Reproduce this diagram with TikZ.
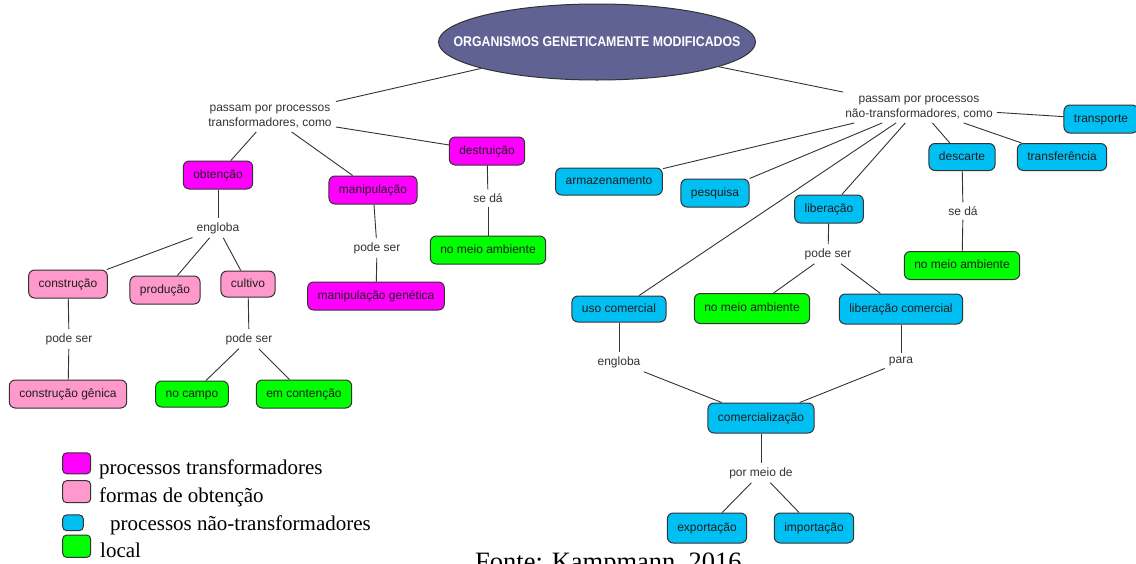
\documentclass[tikz,border=0pt]{standalone}
\usepackage{fontspec}
\setmainfont{Liberation Serif}
\setsansfont{Liberation Sans}
\usetikzlibrary{shapes.geometric}
\definecolor{ogm}{HTML}{5F6293}
\definecolor{cmag}{HTML}{FF00FF}
\definecolor{cpink}{HTML}{FF99CC}
\definecolor{cblue}{HTML}{00BFF3}
\definecolor{cgreen}{HTML}{00FF00}
\definecolor{edge}{HTML}{333333}
\definecolor{txt}{HTML}{1E1E1E}
\tikzset{
  box/.style={draw=edge, line width=1pt, rounded corners=6pt, inner xsep=10pt, inner ysep=0pt,
    minimum height=28pt, text height=9pt, text depth=2.5pt, text=txt,
    font=\sffamily\fontsize{12}{14}\selectfont},
  trans/.style={box, fill=cmag},
  forma/.style={box, fill=cpink},
  nontr/.style={box, fill=cblue},
  loc/.style={box, fill=cgreen},
  lbl/.style={inner sep=4pt, align=center, text=edge, font=\sffamily\fontsize{12}{14.5}\selectfont},
  conn/.style={draw=edge, line width=0.9pt},
  legsq/.style={draw=edge, line width=1pt, rounded corners=4pt, inner sep=0pt},
  legtxt/.style={anchor=base west, inner sep=0pt, font=\fontsize{21}{24}\selectfont}
}
\begin{document}
\begin{tikzpicture}[x=1pt,y=-1pt]
\useasboundingbox (0,0) rectangle (1136,563);
\fill[white] (0,0) rectangle (1136,563);

% title
\node[ellipse, draw=edge, line width=1pt, fill=ogm, minimum width=317pt, minimum height=76pt, inner sep=0pt,
  text=white] (title) at (597,42) {\makebox[0pt]{\scalebox{0.88}[1]{\sffamily\bfseries\fontsize{14}{16}\selectfont ORGANISMOS GENETICAMENTE MODIFICADOS}}};

% left branch
\node[lbl] (L1) at (270,116.5) {passam por processos\\transformadores, como};
\node[trans] (obt) at (218,175) {obtenção};
\node[trans] (manip) at (373,190) {manipulação};
\node[trans] (destr) at (487,151) {destruição};
\node[lbl] (engl1) at (218,228) {engloba};
\node[lbl] (seda1) at (488,198) {se dá};
\node[loc] (nma1) at (488,250) {no meio ambiente};
\node[lbl] (poder1) at (377,248) {pode ser};
\node[trans] (mgen) at (376,296) {manipulação genética};
\node[forma] (constr) at (68,284) {construção};
\node[forma] (prod) at (165,290) {produção};
\node[forma, minimum height=26pt] (cult) at (248,284) {cultivo};
\node[lbl] (podec) at (69,339) {pode ser};
\node[lbl] (podecu) at (249,339) {pode ser};
\node[forma] (cgen) at (68,394) {construção gênica};
\node[loc, minimum height=26pt] (campo) at (192,394) {no campo};
\node[loc] (contencao) at (304,394) {em contenção};

% right branch
\node[lbl] (R1) at (919,107.5) {passam por processos\\não-transformadores, como};
\node[nontr] (transp) at (1101,119) {transporte};
\node[nontr, minimum height=27pt] (transf) at (1062,157) {transferência};
\node[nontr, minimum height=27pt] (desc) at (962,157) {descarte};
\node[nontr, minimum height=27pt] (armaz) at (609,181.5) {armazenamento};
\node[nontr] (pesq) at (715,193) {pesquisa};
\node[nontr] (liber) at (829,209) {liberação};
\node[lbl] (seda2) at (963,211) {se dá};
\node[loc] (nma2) at (962,265.5) {no meio ambiente};
\node[lbl] (poder2) at (828,254) {pode ser};
\node[nontr, minimum height=26pt] (uso) at (619,309) {uso comercial};
\node[loc, minimum height=30pt] (nma3) at (752,308.5) {no meio ambiente};
\node[nontr, minimum height=30pt] (libcom) at (901,309) {liberação comercial};
\node[lbl] (engl2) at (619,362) {engloba};
\node[lbl] (para) at (901,362) {para};
\node[nontr, minimum height=30pt] (comerc) at (761,418) {comercialização};
\node[lbl] (pormeio) at (761,473) {por meio de};
\node[nontr, minimum height=30pt] (export) at (707,528) {exportação};
\node[nontr, minimum height=30pt] (import) at (814,528) {importação};

% connectors
\draw[conn] (title) -- (L1);
\draw[conn] (title) -- (R1);
\draw[conn] (L1) -- (obt);
\draw[conn] (L1) -- (manip);
\draw[conn] (L1) -- (destr);
\draw[conn] (obt) -- (engl1);
\draw[conn] (engl1) -- (constr);
\draw[conn] (engl1) -- (prod);
\draw[conn] (engl1) -- (cult);
\draw[conn] (constr) -- (podec);
\draw[conn] (podec) -- (cgen);
\draw[conn] (cult) -- (podecu);
\draw[conn] (podecu) -- (campo);
\draw[conn] (podecu) -- (contencao);
\draw[conn] (manip) -- (poder1);
\draw[conn] (poder1) -- (mgen);
\draw[conn] (destr) -- (seda1);
\draw[conn] (seda1) -- (nma1);
\draw[conn] (R1) -- (transp);
\draw[conn] (R1) -- (transf);
\draw[conn] (R1) -- (desc);
\draw[conn] (R1) -- (liber);
\draw[conn] (R1) -- (armaz);
\draw[conn] (R1) -- (pesq);
\draw[conn] (R1) -- (uso);
\draw[conn] (desc) -- (seda2);
\draw[conn] (seda2) -- (nma2);
\draw[conn] (liber) -- (poder2);
\draw[conn] (poder2) -- (nma3);
\draw[conn] (poder2) -- (libcom);
\draw[conn] (uso) -- (engl2);
\draw[conn] (engl2) -- (comerc);
\draw[conn] (libcom) -- (para);
\draw[conn] (para) -- (comerc);
\draw[conn] (comerc) -- (pormeio);
\draw[conn] (pormeio) -- (export);
\draw[conn] (pormeio) -- (import);

% legend
\node[legsq, fill=cmag, minimum width=28pt, minimum height=21pt] (lg1) at (76.7,463.3) {};
\node[legsq, fill=cpink, minimum width=28pt, minimum height=22pt] (lg2) at (76.7,491.7) {};
\node[legsq, fill=cblue, minimum width=20.6pt, minimum height=15.7pt] (lg3) at (73,522.8) {};
\node[legsq, fill=cgreen, minimum width=28pt, minimum height=22.3pt] (lg4) at (76.7,546.2) {};
\node[legtxt] (lt1) at (99,474) {processos transformadores};
\node[legtxt] (lt2) at (99,502.7) {formas de obtenção};
\node[legtxt] (lt3) at (110,530.7) {processos não-transformadores};
\node[legtxt] (lt4) at (100,557.3) {local};

% source
\node[anchor=base west, inner sep=0pt, font=\fontsize{26.5}{30}\selectfont] (fonte) at (475,570) {Fonte: Kampmann, 2016};
\end{tikzpicture}
\end{document}
